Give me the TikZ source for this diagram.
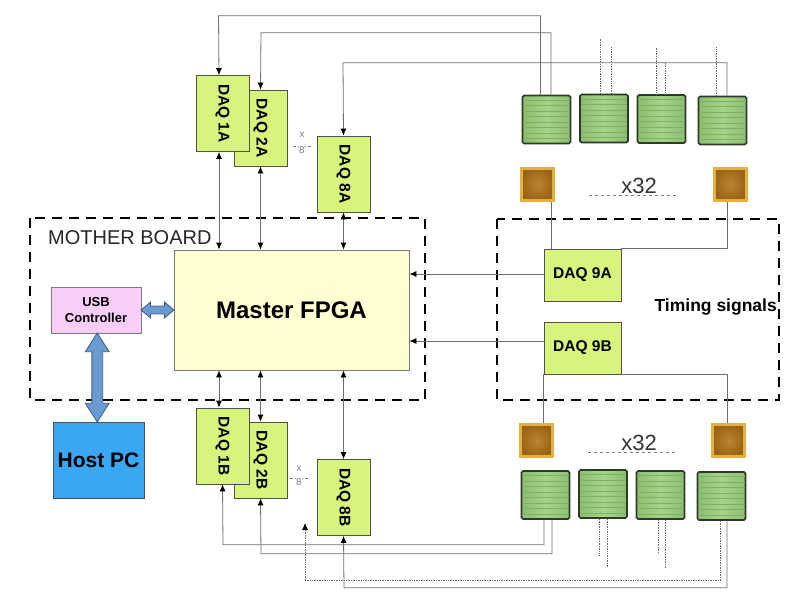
\documentclass[tikz,border=0pt]{standalone}
\usepackage{fontspec}
\setmainfont{Liberation Sans}
\usepackage{graphicx}
\usetikzlibrary{arrows.meta}
\usetikzlibrary{calc, shapes.arrows}

\definecolor{daqgreen}{HTML}{D7F47C}
\definecolor{daqborder}{HTML}{505050}
\definecolor{fpgafill}{HTML}{FFFFD2}
\definecolor{fpgaborder}{HTML}{7A7A7A}
\definecolor{usbpink}{HTML}{F8CDF8}
\definecolor{hostblue}{HTML}{3AA6F4}
\definecolor{arrowblue}{HTML}{6A9BD0}
\definecolor{arrowborder}{HTML}{3B5C85}
\definecolor{wiregray}{HTML}{6E6E6E}
\definecolor{sgreenlight}{HTML}{A4D488}
\definecolor{sgreendark}{HTML}{8CBE70}
\definecolor{sensorborder}{HTML}{2C3A28}
\definecolor{stripegreen}{HTML}{7EAF64}
\definecolor{padgold}{HTML}{E3B23C}
\definecolor{padbrown}{HTML}{BC8430}
\definecolor{padbrowndark}{HTML}{9A6418}

\begin{document}
\begin{tikzpicture}[
            x=1pt, y=-1pt,
            daq/.style={rectangle, draw=daqborder, fill=daqgreen, line width=0.8pt, minimum width=53pt, minimum height=76pt, inner sep=0pt, font=\fontsize{15.5}{18}\selectfont\bfseries},
            daq_wide/.style={daq, minimum width=77pt, minimum height=52pt},
            fpga/.style={rectangle, draw=fpgaborder, fill=fpgafill, line width=0.8pt, minimum width=235pt, minimum height=120pt, font=\fontsize{24}{28}\selectfont\bfseries},
            usb/.style={rectangle, draw=fpgaborder, fill=usbpink, line width=0.8pt, minimum width=90pt, minimum height=46pt, align=center, font=\fontsize{13}{16.5}\selectfont\bfseries},
            host/.style={rectangle, draw=daqborder, fill=hostblue, line width=0.8pt, minimum width=91pt, minimum height=76pt, font=\fontsize{21}{24}\selectfont\bfseries},
            sensor/.style={rectangle, rounded corners=1.5pt, draw=sensorborder, line width=1.6pt, left color=sgreendark, right color=sgreendark, middle color=sgreenlight, minimum size=48pt, inner sep=0pt},
            stripe/.style={stripegreen, line width=0.6pt, shorten <=1.5pt, shorten >=1.5pt},
            pad/.style={rectangle, draw=padgold, line width=3pt, inner color=padbrown, outer color=padbrowndark, minimum size=32pt, inner sep=0pt},
            board/.style={draw=black, line width=2.6pt, dash pattern=on 10pt off 7pt},
            wire/.style={wiregray, line width=0.8pt},
            dot_wire/.style={wiregray, line width=0.7pt, densely dotted},
            arrow/.style={-{Latex[length=7pt, width=6pt, color=black]}},
            both_arrow/.style={{Latex[length=7pt, width=6pt, color=black]}-{Latex[length=7pt, width=6pt, color=black]}},
            fat_arrow/.style={double arrow, draw=arrowborder, fill=arrowblue, line width=0.8pt},
            mult_label/.style={text=gray, font=\fontsize{10}{11}\selectfont, inner sep=0pt},
            count_label/.style={text=black!80, font=\fontsize{22}{24}\selectfont, inner sep=0pt, anchor=base}
        ]
        \useasboundingbox (0,0) rectangle (795,605);

        % Dashed regions
        \draw[board] (30,218) rectangle (425,400);
        \draw[board] (497,219) rectangle (779,400);
        \node[anchor=west, font=\fontsize{20}{22}\selectfont, text=black!85, inner sep=0pt] (board_label) at (48,238) {MOTHER BOARD};
        \node[anchor=east, font=\fontsize{17.5}{20}\selectfont\bfseries, inner sep=0pt] (timing_label) at (777,307) {Timing signals};

        % Mother board
        \node[fpga] (master_fpga) at (291.5,310) {Master FPGA};
        \node[usb] (usb_ctrl) at (96,310) {USB\\Controller};
        \node[host] (host_pc) at (98.5,460) {Host PC};

        % DAQ boards (A side)
        \node[daq] (daq_2a) at (260.5,128) {\rotatebox{-90}{DAQ 2A}};
        \node[daq] (daq_1a) at (222.5,113.5) {\rotatebox{-90}{DAQ 1A}};
        \node[daq] (daq_8a) at (343.5,174) {\rotatebox{-90}{DAQ 8A}};

        % DAQ boards (B side)
        \node[daq] (daq_2b) at (260.5,460) {\rotatebox{-90}{DAQ 2B}};
        \node[daq] (daq_1b) at (222.5,446) {\rotatebox{-90}{DAQ 1B}};
        \node[daq] (daq_8b) at (343.5,497.5) {\rotatebox{-90}{DAQ 8B}};

        % Timing DAQ boards
        \node[daq_wide] (daq_9a) at (582.5,275) {DAQ 9A};
        \node[daq_wide] (daq_9b) at (582.5,348) {DAQ 9B};

        % x 8 marks
        \node[mult_label] (mult_a) at (302,135) {x};
        \draw[gray, line width=0.5pt, densely dashed] (293,146) -- (313,146);
        \node[mult_label, fill=white, inner sep=0.5pt] (mult_a8) at (302,150) {8};
        \node[mult_label] (mult_b) at (299,469) {x};
        \draw[gray, line width=0.5pt, densely dashed] (290,478) -- (310,478);
        \node[mult_label, fill=white, inner sep=0.5pt] (mult_b8) at (299,482) {8};

        % Sensors (top row and bottom row)
        \node[sensor] (sensor_t1) at (546.5,119.5) {};
        \node[sensor] (sensor_t2) at (604,118.5) {};
        \node[sensor] (sensor_t3) at (661.5,119) {};
        \node[sensor] (sensor_t4) at (722.5,120.5) {};
        \node[sensor] (sensor_b1) at (545.5,495) {};
        \node[sensor] (sensor_b2) at (603,494) {};
        \node[sensor] (sensor_b3) at (660.5,495) {};
        \node[sensor] (sensor_b4) at (721.5,496) {};
        \foreach \s in {sensor_t1, sensor_t2, sensor_t3, sensor_t4, sensor_b1, sensor_b2, sensor_b3, sensor_b4} {
            \foreach \k in {1,...,8}
                \draw[stripe] ($(\s.north west)!\k/9!(\s.south west)$) -- ($(\s.north east)!\k/9!(\s.south east)$);
        }

        % Timing pads
        \node[pad] (pad_t1) at (537.5,184) {};
        \node[pad] (pad_t2) at (730,184) {};
        \node[pad] (pad_b1) at (536.5,440.5) {};
        \node[pad] (pad_b2) at (728.5,440.5) {};
        \node[count_label] (count_t) at (639,193) {x32};
        \node[count_label] (count_b) at (639,450) {x32};
        \draw[gray, line width=0.8pt, dashed] (589,195) -- (678,195);
        \draw[gray, line width=0.8pt, dashed] (588,452) -- (677,452);

        % Sensor wires (top)
        \draw[wire, arrow] ([xshift=-6pt]sensor_t1.north) |- ++(-322,-79) -- ([xshift=-3.5pt]daq_1a.north);
        \draw[wire, arrow] ([xshift=4.5pt]sensor_t1.north) |- ++(-290,-62) -- (daq_2a.north);
        \draw[wire, arrow] ([xshift=4.5pt]sensor_t4.north) |- ++(-384,-33) -- (daq_8a.north);
        \draw[dot_wire] ([xshift=-4pt]sensor_t2.north) -- ++(0,-55);
        \draw[dot_wire] ([xshift=7pt]sensor_t2.north) -- ++(0,-47);
        \draw[dot_wire] ([xshift=-5.5pt]sensor_t3.north) -- ++(0,-47);
        \draw[dot_wire] ([xshift=3.5pt]sensor_t3.north) -- ++(0,-32);
        \draw[dot_wire] ([xshift=-6.5pt]sensor_t4.north) -- ++(0,-49);

        % Sensor wires (bottom)
        \coordinate (dot_8b) at (305,523);
        \draw[wire, arrow] ([xshift=-1.5pt]sensor_b1.south) |- ++(-321,25) -- (daq_1b.south);
        \draw[wire, arrow] ([xshift=6.5pt]sensor_b1.south) |- ++(-291,34) -- (daq_2b.south);
        \draw[dot_wire, arrow] ([xshift=-1.5pt]sensor_b4.south) |- ++(-415,60) -- (dot_8b);
        \draw[wire, arrow] ([xshift=5.5pt]sensor_b4.south) |- ++(-383,67) -- (daq_8b.south);
        \draw[dot_wire] ([xshift=-4pt]sensor_b2.south) -- ++(0,36);
        \draw[dot_wire] ([xshift=4pt]sensor_b2.south) -- ++(0,49);
        \draw[dot_wire] ([xshift=-2.5pt]sensor_b3.south) -- ++(0,34);
        \draw[dot_wire] ([xshift=4.5pt]sensor_b3.south) -- ++(0,49);

        % DAQ <-> Master FPGA
        \draw[wire, both_arrow] ([xshift=-3.5pt]daq_1a.south) -- ([xshift=-3.5pt]daq_1a.south |- master_fpga.north);
        \draw[wire, both_arrow] (daq_2a.south) -- (daq_2a.south |- master_fpga.north);
        \draw[wire, both_arrow] (daq_8a.south) -- (daq_8a.south |- master_fpga.north);
        \draw[wire, both_arrow] ([xshift=-3.5pt]daq_1b.north |- master_fpga.south) -- ([xshift=-3.5pt]daq_1b.north);
        \draw[wire, both_arrow] (daq_2b.north |- master_fpga.south) -- (daq_2b.north);
        \draw[wire, both_arrow] (daq_8b.north |- master_fpga.south) -- (daq_8b.north);

        % Timing wires
        \draw[wire] ([xshift=13.5pt]pad_t1.south) -- ([xshift=13.5pt]pad_t1.south |- daq_9a.north);
        \draw[wire] ([xshift=-3pt]pad_t2.south) |- (daq_9a.north east);
        \draw[wire] (daq_9b.south west) -- (daq_9b.south west |- pad_b1.north);
        \draw[wire] ([xshift=-1.5pt]pad_b2.north) |- (daq_9b.south east);
        \draw[wire, arrow] ([yshift=1pt]daq_9a.west) -- ([yshift=1pt]daq_9a.west -| master_fpga.east);
        \draw[wire, arrow] ([yshift=7pt]daq_9b.west) -- ([yshift=7pt]daq_9b.west -| master_fpga.east);

        % USB links
        \node[fat_arrow, inner sep=3.5pt, minimum height=33pt, minimum width=16pt, double arrow head extend=4pt, double arrow tip angle=80] (usb_fpga_link) at ($(usb_ctrl.east)!0.5!(master_fpga.west)$) {};
        \node[fat_arrow, rotate=90, inner sep=5pt, minimum height=89pt, minimum width=23pt, double arrow head extend=6.5pt, double arrow tip angle=65] (usb_host_link) at ($(usb_ctrl.south)!0.5!(host_pc.north)$) {};

    \end{tikzpicture}
\end{document}
